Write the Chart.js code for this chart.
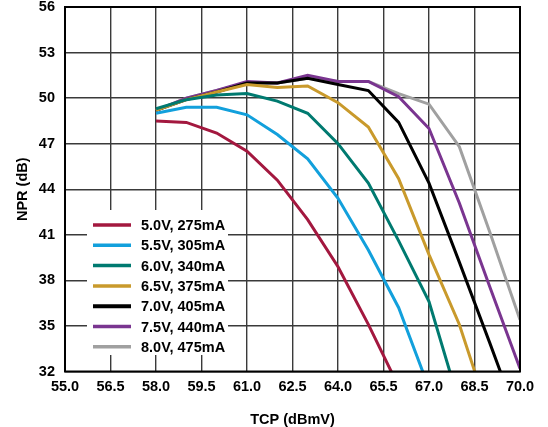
<!DOCTYPE html>
<html>
<head>
<meta charset="utf-8">
<script src="https://cdn.jsdelivr.net/npm/chart.js@4.4.1/dist/chart.umd.min.js"></script>
<style>
html,body{margin:0;padding:0;background:#fff;}
</style>
</head>
<body>
<canvas id="myChart" width="548" height="427"></canvas>
<script>
// Datos (NPR en dB contra TCP en dBmV)
const tcp = [58, 59, 60, 61, 62, 63, 64, 65, 66, 67, 68, 69, 70];

const etiquetas = ['5.0V, 275mA', '5.5V, 305mA', '6.0V, 340mA', '6.5V, 375mA', '7.0V, 405mA', '7.5V, 440mA', '8.0V, 475mA'];
const colores = ['#a3183f', '#12a0dc', '#007a70', '#c99a2c', '#000000', '#7a3590', '#a0a0a0'];

const npr50 = [48.5, 48.4, 47.7, 46.5, 44.6, 42.0, 38.9, 35.1, 31.0];
const npr55 = [49.0, 49.4, 49.4, 48.9, 47.6, 46.0, 43.4, 40.0, 36.2, 30.9];
const npr60 = [49.3, 49.9, 50.2, 50.3, 49.8, 49.0, 47.0, 44.4, 40.6, 36.6, 29.9];
const npr65 = [49.2, 49.9, 50.4, 50.9, 50.7, 50.8, 49.7, 48.1, 44.7, 39.7, 35.1, 29.0];
const npr70 = [49.2, 49.9, 50.4, 51.0, 51.0, 51.3, 50.9, 50.5, 48.4, 44.4, 39.2, 33.9, 28.5];
const npr75 = [49.2, 50.0, 50.5, 51.1, 51.0, 51.5, 51.1, 51.1, 50.1, 48.0, 43.1, 37.6, 32.2];
const npr80 = [49.2, 50.0, 50.5, 51.0, 51.0, 51.3, 51.1, 51.1, 50.3, 49.6, 46.8, 41.2, 35.4];

const series = [npr50, npr55, npr60, npr65, npr70, npr75, npr80];

const fuente = '"Liberation Sans", Arial, sans-serif';

function crearDatos() {
    const datasets = series.map((valores, i) => ({
        label: etiquetas[i],
        borderColor: colores[i],
        backgroundColor: colores[i],
        borderWidth: 3,
        pointRadius: 0,
        tension: 0,
        clip: 0,
        data: valores.map((v, j) => ({ x: tcp[j], y: v }))
    }));
    return { datasets };
}

// Marco negro alrededor del area de la grafica y leyenda interna
const marcoYLeyenda = {
    id: 'marcoYLeyenda',
    afterDatasetsDraw(chart) {
        const ctx = chart.ctx;
        const area = chart.chartArea;
        ctx.save();
        ctx.strokeStyle = '#000';
        ctx.lineWidth = 2;
        ctx.strokeRect(area.left, area.top, area.right - area.left, area.bottom - area.top);

        const x0 = area.left + 22;
        const y0 = area.top + 203;
        ctx.fillStyle = '#fff';
        ctx.fillRect(x0, y0, 141, 145);

        ctx.font = 'bold 14.5px ' + fuente;
        ctx.textBaseline = 'middle';
        chart.data.datasets.forEach((ds, i) => {
            const y = y0 + 15 + i * 20.3;
            ctx.strokeStyle = ds.borderColor;
            ctx.lineWidth = ds.borderColor === '#000000' ? 4 : 3.5;
            ctx.beginPath();
            ctx.moveTo(x0 + 6, y);
            ctx.lineTo(x0 + 44, y);
            ctx.stroke();
            ctx.fillStyle = '#000';
            ctx.fillText(ds.label, x0 + 54, y + 1);
        });
        ctx.restore();
    }
};

function renderGrafica(data) {
    const canvas = document.querySelector('#myChart');
    const config = {
        type: 'line',
        data,
        options: {
            responsive: false,
            animation: false,
            devicePixelRatio: 1,
            layout: { padding: { top: 7, right: 28, left: 0, bottom: 0 } },
            plugins: { legend: { display: false }, tooltip: { enabled: false } },
            scales: {
                x: {
                    type: 'linear',
                    min: 55,
                    max: 70,
                    afterFit: (s) => { s.height = 55.5; },
                    ticks: {
                        stepSize: 1.5,
                        color: '#000',
                        padding: 7,
                        maxRotation: 0,
                        font: { family: fuente, size: 14.5, weight: 'bold' },
                        callback: (v) => Number(v).toFixed(1)
                    },
                    grid: { color: '#3a3a3a', lineWidth: 1.4, drawTicks: false },
                    border: { display: false },
                    title: {
                        display: true,
                        text: 'TCP (dBmV)',
                        color: '#000',
                        padding: { top: 0, bottom: -2 },
                        font: { family: fuente, size: 14.5, weight: 'bold' }
                    }
                },
                y: {
                    min: 32,
                    max: 56,
                    afterFit: (s) => { s.width = 65; s.paddingTop = 0; s.paddingBottom = 0; },
                    ticks: {
                        stepSize: 3,
                        color: '#000',
                        padding: 10,
                        font: { family: fuente, size: 14.5, weight: 'bold' }
                    },
                    grid: { color: '#3a3a3a', lineWidth: 1.4, drawTicks: false },
                    border: { display: false },
                    title: {
                        display: true,
                        text: 'NPR (dB)',
                        color: '#000',
                        padding: { top: 14, bottom: 0 },
                        font: { family: fuente, size: 14.5, weight: 'bold' }
                    }
                }
            }
        },
        plugins: [marcoYLeyenda]
    };
    return new Chart(canvas, config);
}

renderGrafica(crearDatos());
</script>
</body>
</html>
